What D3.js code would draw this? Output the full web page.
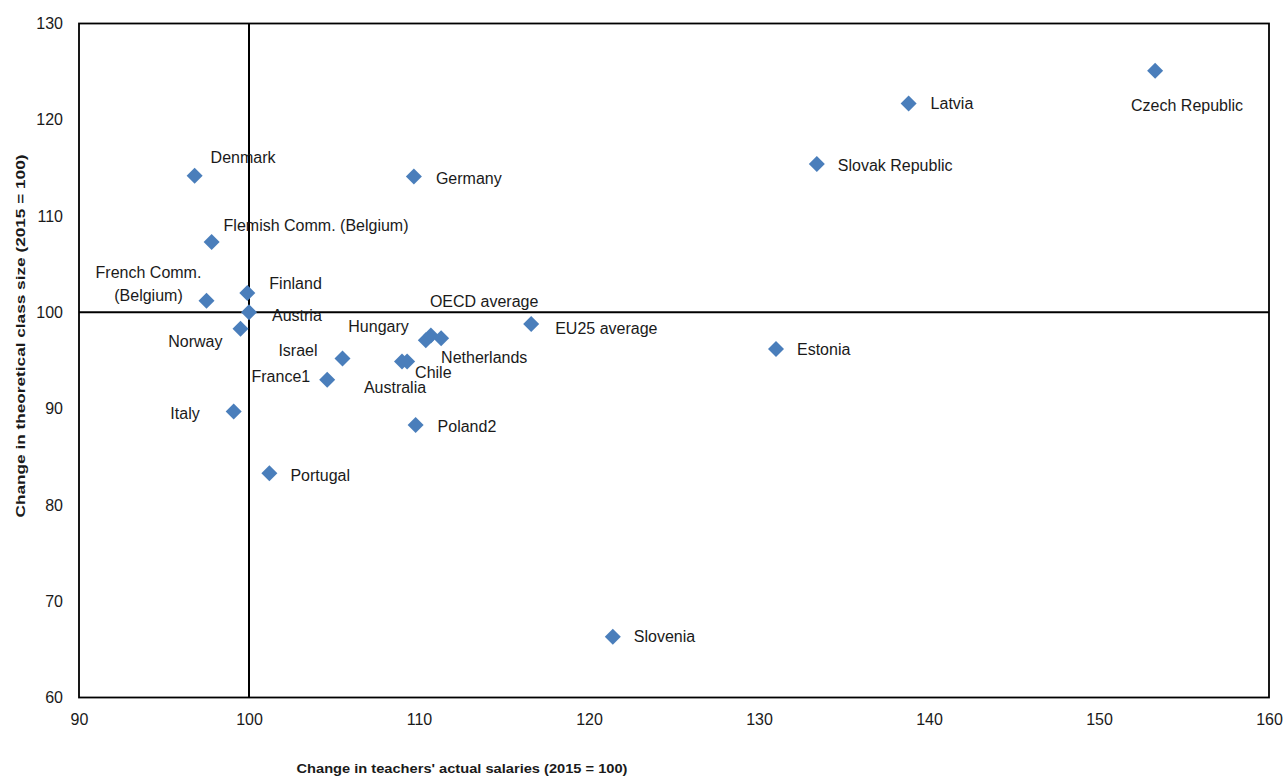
<!DOCTYPE html>
<html><head><meta charset="utf-8">
<script src="https://cdn.jsdelivr.net/npm/d3@7"></script>
<style>
body{margin:0;background:#fff;}
text{font-family:"Liberation Sans",Arial,sans-serif;fill:#1a1a1a;}
</style></head>
<body><svg id="c" width="1286" height="776"></svg>
<script>
const countries = ["Denmark","Germany","Flemish Comm. (Belgium)","French Comm. (Belgium)","Finland","Austria","Norway","Israel","France1","Italy","Portugal","Hungary","OECD average","Netherlands","Chile","Australia","EU25 average","Poland2","Slovenia","Estonia","Slovak Republic","Latvia","Czech Republic"];
const salaries = [96.8,109.7,97.8,97.5,99.9,100.0,99.5,105.5,104.6,99.1,101.2,110.4,110.7,111.3,109.3,109.0,116.6,109.8,121.4,131.0,133.4,138.8,153.3];
const classSize = [114.2,114.1,107.3,101.2,102.0,100.0,98.3,95.2,93.0,89.7,83.3,97.1,97.6,97.3,94.9,94.9,98.8,88.3,66.3,96.2,115.4,121.7,125.1];
const xTicks = [90,100,110,120,130,140,150,160];
const yTicks = [60,70,80,90,100,110,120,130];

// label layout (offsets from marker, anchor)
const labelLayout = {
  "Denmark":[16,-18,"start"],
  "Germany":[22,2,"start"],
  "Flemish Comm. (Belgium)":[12,-17,"start"],
  "French Comm. (Belgium)":[-58,-29,"middle"],
  "Finland":[22,-10,"start"],
  "Austria":[23,3,"start"],
  "Norway":[-18,13,"end"],
  "Israel":[-25,-8,"end"],
  "France1":[-17,-3,"end"],
  "Italy":[-34,2,"end"],
  "Portugal":[21,2,"start"],
  "Hungary":[-17,-14,"end"],
  "OECD average":[-1,-34,"start"],
  "Netherlands":[0,19,"start"],
  "Chile":[8,11,"start"],
  "Australia":[-7,26,"middle"],
  "EU25 average":[24,5,"start"],
  "Poland2":[22,1,"start"],
  "Slovenia":[21,0,"start"],
  "Estonia":[21,1,"start"],
  "Slovak Republic":[21,1,"start"],
  "Latvia":[22,0,"start"],
  "Czech Republic":[32,35,"middle"]
};

const svg = d3.select("#c");
const L=79,R=1269,T=23.5,B=697.5;
const x = d3.scaleLinear().domain([90,160]).range([L,R]);
const y = d3.scaleLinear().domain([60,130]).range([B,T]);

// frame
svg.append("rect").attr("x",L).attr("y",T).attr("width",R-L).attr("height",B-T)
  .attr("fill","none").attr("stroke","#000").attr("stroke-width",1.8);
// reference lines
svg.append("line").attr("x1",x(100)).attr("x2",x(100)).attr("y1",T).attr("y2",B).attr("stroke","#000").attr("stroke-width",2);
svg.append("line").attr("x1",L).attr("x2",R).attr("y1",y(100)).attr("y2",y(100)).attr("stroke","#000").attr("stroke-width",2);

// axes
const xa = svg.append("g").attr("transform",`translate(0,${B})`)
  .call(d3.axisBottom(x).tickValues(xTicks).tickSize(0).tickPadding(16).tickFormat(d3.format("d")));
xa.select(".domain").remove();
xa.selectAll("text").attr("font-size",16).attr("font-family","Liberation Sans, Arial, sans-serif").attr("fill","#1a1a1a");
const ya = svg.append("g").attr("transform",`translate(${L},0)`)
  .call(d3.axisLeft(y).tickValues(yTicks).tickSize(0).tickPadding(16).tickFormat(d3.format("d")));
ya.select(".domain").remove();
ya.selectAll("text").attr("font-size",16).attr("font-family","Liberation Sans, Arial, sans-serif").attr("fill","#1a1a1a");

// axis titles
svg.append("text").attr("x",462).attr("y",773).attr("text-anchor","middle")
  .attr("font-size",13).attr("font-weight","bold")
  .attr("textLength",331).attr("lengthAdjust","spacingAndGlyphs")
  .text("Change in teachers' actual salaries (2015 = 100)");
svg.append("text").attr("transform","translate(25,336) rotate(-90)").attr("text-anchor","middle")
  .attr("font-size",13).attr("font-weight","bold")
  .attr("textLength",363).attr("lengthAdjust","spacingAndGlyphs")
  .text("Change in theoretical  class size (2015 = 100)");

const data = countries.map((c,i)=>({name:c,x:salaries[i],y:classSize[i]}));

// markers
svg.append("g").selectAll("path").data(data).join("path")
  .attr("d", d3.symbol().type(d3.symbolSquare).size(128))
  .attr("transform", d=>`translate(${x(d.x)},${y(d.y)}) rotate(45)`)
  .attr("fill","#4a7ebb");

// labels
const lg = svg.append("g");
data.forEach(d=>{
  const [dx,dy,anc] = labelLayout[d.name];
  const t = lg.append("text").attr("x",x(d.x)+dx).attr("y",y(d.y)+dy)
    .attr("text-anchor",anc).attr("dominant-baseline","central").attr("font-size",16);
  if(d.name==="French Comm. (Belgium)"){
    t.append("tspan").attr("x",x(d.x)+dx).text("French Comm.");
    t.append("tspan").attr("x",x(d.x)+dx).attr("dy",23).text("(Belgium)");
  } else t.text(d.name);
});
</script></body></html>
